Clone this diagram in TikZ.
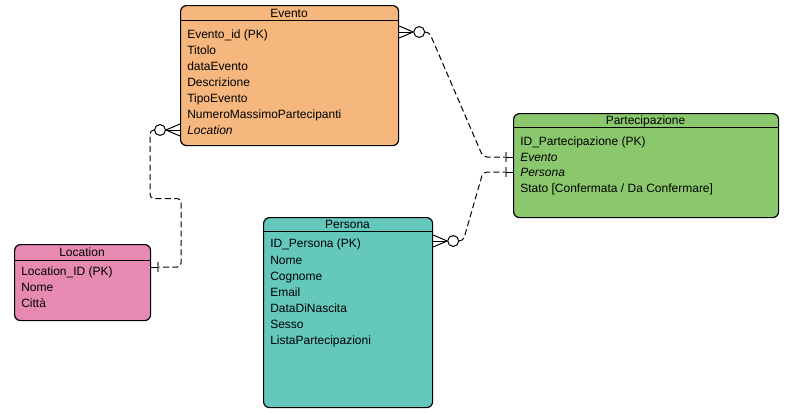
\documentclass[tikz,border=0pt]{standalone}
\usepackage{fontspec}
\setmainfont{Liberation Sans}
\usetikzlibrary{calc}
\definecolor{evcol}{HTML}{F5B77D}
\definecolor{pacol}{HTML}{8BC86D}
\definecolor{locol}{HTML}{E68AB2}
\definecolor{pecol}{HTML}{64C8BC}
\definecolor{barcol}{HTML}{7F7F7F}
\begin{document}
\begin{tikzpicture}[x=0.75pt,y=-0.75pt,
  ent/.style={draw=black,line width=0.9pt,rounded corners=4.5pt,inner sep=0pt,anchor=north west},
  ttl/.style={font=\fontsize{9}{11}\selectfont,inner sep=0pt,text height=7pt,text depth=2pt,yshift=-1.1pt},
  row/.style={font=\fontsize{9}{11}\selectfont,anchor=west,inner sep=0pt,text height=7pt,text depth=2pt,yshift=-1.1pt},
  conn/.style={line width=0.75pt,dash pattern=on 4.5pt off 2.5pt,rounded corners=3pt},
  cf/.style={line width=0.75pt},
  hdr/.style={line width=0.75pt},
  onebar/.style={draw=barcol,line width=1.5pt}
]
\useasboundingbox (0,0) rectangle (788,414);
% Entities
\node[ent,fill=evcol,minimum width=163.5pt,minimum height=105pt] (evento) at (180,5) {};
\node[ent,fill=pacol,minimum width=198.75pt,minimum height=78pt] (part) at (513,113) {};
\node[ent,fill=locol,minimum width=102pt,minimum height=57pt] (loc) at (14,244) {};
\node[ent,fill=pecol,minimum width=126.75pt,minimum height=142.5pt] (pers) at (263,217) {};
% header lines
\draw[hdr] (evento.west |- 0,20) -- (evento.east |- 0,20);
\draw[hdr] (part.west |- 0,127) -- (part.east |- 0,127);
\draw[hdr] (loc.west |- 0,260) -- (loc.east |- 0,260);
\draw[hdr] (pers.west |- 0,231) -- (pers.east |- 0,231);
% titles
\node[ttl] (evt) at (289,12.5) {Evento};
\node[ttl] (pat) at (645.5,120) {Partecipazione};
\node[ttl] (lot) at (82,252) {Location};
\node[ttl] (pet) at (347.5,224) {Persona};
% Evento rows
\node[row] (ev1) at (187,34) {Evento\_id (PK)};
\node[row] (ev2) at (187,50) {Titolo};
\node[row] (ev3) at (187,66) {dataEvento};
\node[row] (ev4) at (187,82) {Descrizione};
\node[row] (ev5) at (187,98) {TipoEvento};
\node[row] (ev6) at (187,114) {NumeroMassimoPartecipanti};
\node[row] (ev7) at (187,130) {\itshape Location};
% Partecipazione rows
\node[row] (pa1) at (520,141) {ID\_Partecipazione (PK)};
\node[row] (pa2) at (520,157) {\itshape Evento};
\node[row] (pa3) at (520,172) {\itshape Persona};
\node[row] (pa4) at (520,188) {Stato [Confermata / Da Confermare]};
% Location rows
\node[row] (lo1) at (21,271) {Location\_ID (PK)};
\node[row] (lo2) at (21,287) {Nome};
\node[row] (lo3) at (21,303) {Città};
% Persona rows
\node[row] (pe1) at (270,243) {ID\_Persona (PK)};
\node[row] (pe2) at (270,260) {Nome};
\node[row] (pe3) at (270,276) {Cognome};
\node[row] (pe4) at (270,292) {Email};
\node[row] (pe5) at (270,308) {DataDiNascita};
\node[row] (pe6) at (270,324) {Sesso};
\node[row] (pe7) at (270,340) {ListaPartecipazioni};
% ---- Connector 1: Evento -> Partecipazione (Evento)
\coordinate (c1a) at (evento.east |- 0,32);
\coordinate (c1b) at (part.west |- 0,157);
\draw[cf] ($(c1a)+(14,0)$) -- ($(c1a)+(0,-6)$);
\draw[cf] ($(c1a)+(14,0)$) -- (c1a);
\draw[cf] ($(c1a)+(14,0)$) -- ($(c1a)+(0,6)$);
\draw[cf] ($(c1a)+(20,0)$) circle[radius=4.1pt];
\draw[conn] ($(c1a)+(25.5,0)$) -- ($(c1a)+(30,0)$) -- ($(c1b)+(-30,0)$) -- ($(c1b)+(-7,0)$);
\draw[onebar] ($(c1b)+(-7,-5)$) -- ($(c1b)+(-7,5)$);
\draw[cf] ($(c1b)+(-7,0)$) -- (c1b);
% ---- Connector 2: Persona -> Partecipazione (Persona)
\coordinate (c2a) at (pers.east |- 0,241);
\coordinate (c2b) at (part.west |- 0,172);
\draw[cf] ($(c2a)+(14,0)$) -- ($(c2a)+(0,-6)$);
\draw[cf] ($(c2a)+(14,0)$) -- (c2a);
\draw[cf] ($(c2a)+(14,0)$) -- ($(c2a)+(0,6)$);
\draw[cf] ($(c2a)+(20,0)$) circle[radius=4.1pt];
\draw[conn] ($(c2a)+(25.5,0)$) -- ($(c2a)+(30,0)$) -- ($(c2b)+(-30,0)$) -- ($(c2b)+(-7,0)$);
\draw[onebar] ($(c2b)+(-7,-5)$) -- ($(c2b)+(-7,5)$);
\draw[cf] ($(c2b)+(-7,0)$) -- (c2b);
% ---- Connector 3: Evento (Location) -> Location
\coordinate (c3a) at (evento.west |- 0,130);
\coordinate (c3b) at (loc.east |- 0,267);
\coordinate (c3m) at ($(c3a)!0.5!(c3b)$);
\coordinate (c3s) at ($(c3a)+(-30,0)$);
\coordinate (c3t) at ($(c3b)+(30,0)$);
\draw[cf] ($(c3a)+(-14,0)$) -- ($(c3a)+(0,-6)$);
\draw[cf] ($(c3a)+(-14,0)$) -- (c3a);
\draw[cf] ($(c3a)+(-14,0)$) -- ($(c3a)+(0,6)$);
\draw[cf] ($(c3a)+(-20,0)$) circle[radius=4.1pt];
\draw[conn] ($(c3a)+(-25.5,0)$) -- (c3s) -- (c3s |- c3m) -- (c3t |- c3m) -- (c3t) -- ($(c3b)+(7,0)$);
\draw[onebar] ($(c3b)+(7,-5)$) -- ($(c3b)+(7,5)$);
\draw[cf] ($(c3b)+(7,0)$) -- (c3b);
\end{tikzpicture}
\end{document}
